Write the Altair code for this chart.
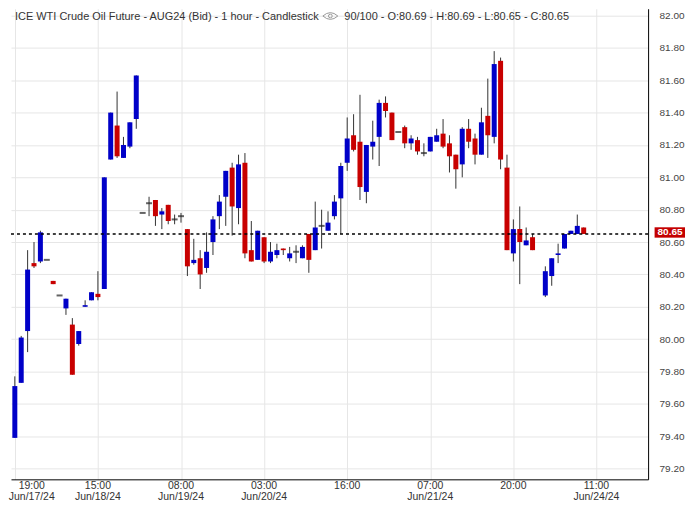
import altair as alt
import pandas as pd

# ---------------- data ----------------
bar_idx = list(range(0, 82)) + list(range(83, 90))
opens = [79.39, 79.73, 80.05, 80.47, 80.48, 80.49, 80.36, 80.27, 80.19, 80.09,
         79.97, 80.20, 80.24, 80.28, 80.31, 81.11, 81.32, 81.12, 81.19, 81.36,
         80.78, 80.84, 80.86, 80.77, 80.83, 80.74, 80.76, 80.68, 80.47, 80.50,
         80.44, 80.60, 80.76, 80.88, 81.06, 80.81, 81.09, 80.55, 80.49, 80.63,
         80.48, 80.52, 80.56, 80.50, 80.54, 80.50, 80.65, 80.55, 80.70, 80.67,
         80.76, 80.87, 81.09, 81.26, 81.22, 80.91, 81.19, 81.25, 81.46, 81.40,
         81.28, 81.31, 81.21, 81.23, 81.15, 81.16, 81.22, 81.27, 81.21, 81.14,
         81.08, 81.30, 81.24, 81.14, 81.38, 81.25, 81.72, 81.06, 80.53, 80.68,
         80.58, 80.63,
         80.27, 80.39, 80.52, 80.56, 80.65, 80.65, 80.69]
highs = [79.77, 80.02, 80.55, 80.60, 80.67, 80.49, 80.36, 80.27, 80.25, 80.13,
         80.05, 80.24, 80.29, 80.42, 81.00, 81.40, 81.53, 81.25, 81.34, 81.63,
         80.78, 80.88, 80.86, 80.81, 80.83, 80.77, 80.78, 80.68, 80.62, 80.55,
         80.66, 80.76, 80.89, 81.04, 81.09, 81.14, 81.15, 80.73, 80.67, 80.63,
         80.60, 80.59, 80.56, 80.57, 80.58, 80.58, 80.65, 80.85, 80.80, 80.79,
         80.89, 81.09, 81.37, 81.39, 81.51, 81.20, 81.35, 81.48, 81.50, 81.40,
         81.28, 81.32, 81.26, 81.25, 81.21, 81.25, 81.30, 81.36, 81.26, 81.14,
         81.31, 81.36, 81.27, 81.43, 81.61, 81.78, 81.74, 81.14, 80.74, 80.82,
         80.69, 80.65,
         80.45, 80.50, 80.59, 80.65, 80.67, 80.77, 80.69]
lows = [79.39, 79.73, 79.92, 80.44, 80.47, 80.49, 80.34, 80.27, 80.15, 79.78,
        79.96, 80.20, 80.24, 80.24, 80.31, 81.11, 81.12, 81.12, 81.18, 81.30,
        80.78, 80.76, 80.70, 80.68, 80.71, 80.71, 80.72, 80.39, 80.46, 80.31,
        80.41, 80.52, 80.68, 80.70, 80.64, 80.71, 80.50, 80.48, 80.49, 80.47,
        80.47, 80.50, 80.52, 80.48, 80.47, 80.50, 80.41, 80.55, 80.56, 80.67,
        80.74, 80.65, 81.04, 81.16, 80.86, 80.84, 81.11, 81.07, 81.37, 81.23,
        81.28, 81.18, 81.17, 81.14, 81.13, 81.16, 81.22, 81.18, 81.03, 80.93,
        81.00, 81.18, 81.08, 81.14, 81.12, 81.21, 81.05, 80.55, 80.48, 80.34,
        80.58, 80.55,
        80.26, 80.33, 80.47, 80.56, 80.65, 80.65, 80.65]
closes = [79.71, 80.01, 80.43, 80.45, 80.66, 80.49, 80.34, 80.27, 80.25, 79.78,
          80.05, 80.21, 80.29, 80.26, 81.00, 81.40, 81.13, 81.20, 81.34, 81.63,
          80.78, 80.84, 80.76, 80.79, 80.73, 80.74, 80.76, 80.45, 80.49, 80.40,
          80.54, 80.74, 80.85, 81.04, 80.82, 81.08, 80.53, 80.48, 80.67, 80.48,
          80.54, 80.55, 80.55, 80.53, 80.54, 80.57, 80.49, 80.69, 80.70, 80.72,
          80.85, 81.07, 81.24, 81.17, 80.94, 81.20, 81.22, 81.46, 81.41, 81.23,
          81.28, 81.21, 81.24, 81.16, 81.15, 81.25, 81.26, 81.19, 81.13, 81.05,
          81.30, 81.22, 81.14, 81.34, 81.26, 81.70, 81.11, 80.55, 80.68, 80.60,
          80.61, 80.55,
          80.42, 80.50, 80.53, 80.65, 80.67, 80.70, 80.65]

tick_idx = [0, 13, 26, 39, 52, 65, 78, 91]
tick_time = ["19:00", "15:00", "08:00", "03:00", "16:00", "07:00", "20:00", "11:00"]
tick_date = ["Jun/17/24", "Jun/18/24", "Jun/19/24", "Jun/20/24", "", "Jun/21/24", "", "Jun/24/24"]
price_ticks = [79.2, 79.4, 79.6, 79.8, 80.0, 80.2, 80.4, 80.6, 80.8,
               81.0, 81.2, 81.4, 81.6, 81.8, 82.0]
last_price = 80.65
header_left = "ICE WTI Crude Oil Future - AUG24 (Bid) - 1 hour - Candlestick"
header_right = "90/100 - O:80.69 - H:80.69 - L:80.65 - C:80.65"

# ---------------- tables ----------------
df = pd.DataFrame({"i": bar_idx, "o": opens, "h": highs, "l": lows, "c": closes})
df["dir"] = ["up" if c > o else ("down" if c < o else "flat") for o, c in zip(opens, closes)]

labels = pd.DataFrame({
    "i": tick_idx,
    "label": [t + ("\n" + d if d else "") for t, d in zip(tick_time, tick_date)],
})
price_df = pd.DataFrame({"p": [last_price]})
one = pd.DataFrame({"a": [1]})

FONT = "Liberation Sans"
W, H = 639, 472

xs = alt.Scale(domain=[-0.6, 99.08], nice=False, zero=False, padding=0)
ys = alt.Scale(domain=[82.0419 - H / 162.3, 82.0419], nice=False, zero=False, padding=0)
xaxis = alt.Axis(values=tick_idx, labels=False, ticks=False, domainColor="#000000",
                 domainWidth=1, gridColor="#e6e6e6", grid=True, title=None)
yaxis = alt.Axis(orient="right", values=price_ticks, format=".2f", labelFont=FONT,
                 labelFontSize=10, labelColor="#444444", tickSize=0, labelPadding=11,
                 domainColor="#000000", domainWidth=1, gridColor="#e6e6e6", grid=True,
                 title=None)


def X(f):
    return alt.X(f, scale=xs, axis=xaxis)


def Y(f):
    return alt.Y(f, scale=ys, axis=yaxis)


wicks = alt.Chart(df).mark_rule(color="#333333", strokeWidth=1).encode(
    x=X("i:Q"), y=Y("l:Q"), y2="h:Q")

bodies = alt.Chart(df).transform_filter("datum.dir != 'flat'").mark_bar(size=5).encode(
    x=X("i:Q"), y=Y("o:Q"), y2="c:Q",
    color=alt.Color("dir:N", scale=alt.Scale(domain=["up", "down"],
                                              range=["#0000c8", "#c80000"]), legend=None))

dojis = alt.Chart(df).transform_filter("datum.dir == 'flat'").mark_tick(
    orient="horizontal", size=6, thickness=2, color="#222222").encode(
    x=X("i:Q"), y=Y("o:Q"))

price_line = alt.Chart(price_df).mark_rule(
    color="#000000", strokeWidth=1.5, strokeDash=[3, 3]).encode(y=Y("p:Q"))

price_box = alt.Chart(price_df).mark_rect(color="#c40000", yOffset=-6.7, y2Offset=3.7).encode(
    x=alt.value(645.5), x2=alt.value(676), y=Y("p:Q"), y2="p:Q")

price_text = alt.Chart(price_df).mark_text(
    font=FONT, fontSize=10, fontWeight="bold", color="#ffffff", align="center",
    baseline="middle", dy=-1.8).encode(
    x=alt.value(661), y=Y("p:Q"), text=alt.Text("p:Q", format=".2f"))

lab_first = alt.Chart(labels).transform_filter("datum.i == 0").mark_text(
    font=FONT, fontSize=10.5, color="#333333", align="center", baseline="top",
    lineBreak="\n", lineHeight=11, dx=17).encode(
    x=X("i:Q"), y=alt.value(H + 2), text="label:N")

lab_rest = alt.Chart(labels).transform_filter("datum.i != 0").mark_text(
    font=FONT, fontSize=10.5, color="#333333", align="center", baseline="top",
    lineBreak="\n", lineHeight=11).encode(
    x=X("i:Q"), y=alt.value(H + 2), text="label:N")

head1 = alt.Chart(one).mark_text(
    text=header_left, font=FONT, fontSize=11, color="#333333", align="left",
    baseline="alphabetic").encode(x=alt.value(4), y=alt.value(11.3))

head2 = alt.Chart(one).mark_text(
    text=header_right, font=FONT, fontSize=11, color="#333333", align="left",
    baseline="alphabetic").encode(x=alt.value(334.3), y=alt.value(11.3))

eye_outer = alt.Chart(one).mark_point(
    shape="M-1,0 Q0,-0.9 1,0 Q0,0.9 -1,0 Z", size=225, filled=False,
    stroke="#999999", strokeWidth=1, opacity=1).encode(
    x=alt.value(320.3), y=alt.value(7.3))

eye_inner = alt.Chart(one).mark_point(
    shape="circle", size=14, filled=False, stroke="#999999", strokeWidth=1,
    opacity=1).encode(x=alt.value(320.3), y=alt.value(7.3))

chart = alt.layer(
    wicks, bodies, dojis, price_line, price_box, price_text,
    lab_first, lab_rest, head1, head2, eye_outer, eye_inner
).properties(width=W, height=H, padding=0).configure_view(stroke=None)

chart.save("out.html", embed_options={"renderer": "svg", "actions": False})
